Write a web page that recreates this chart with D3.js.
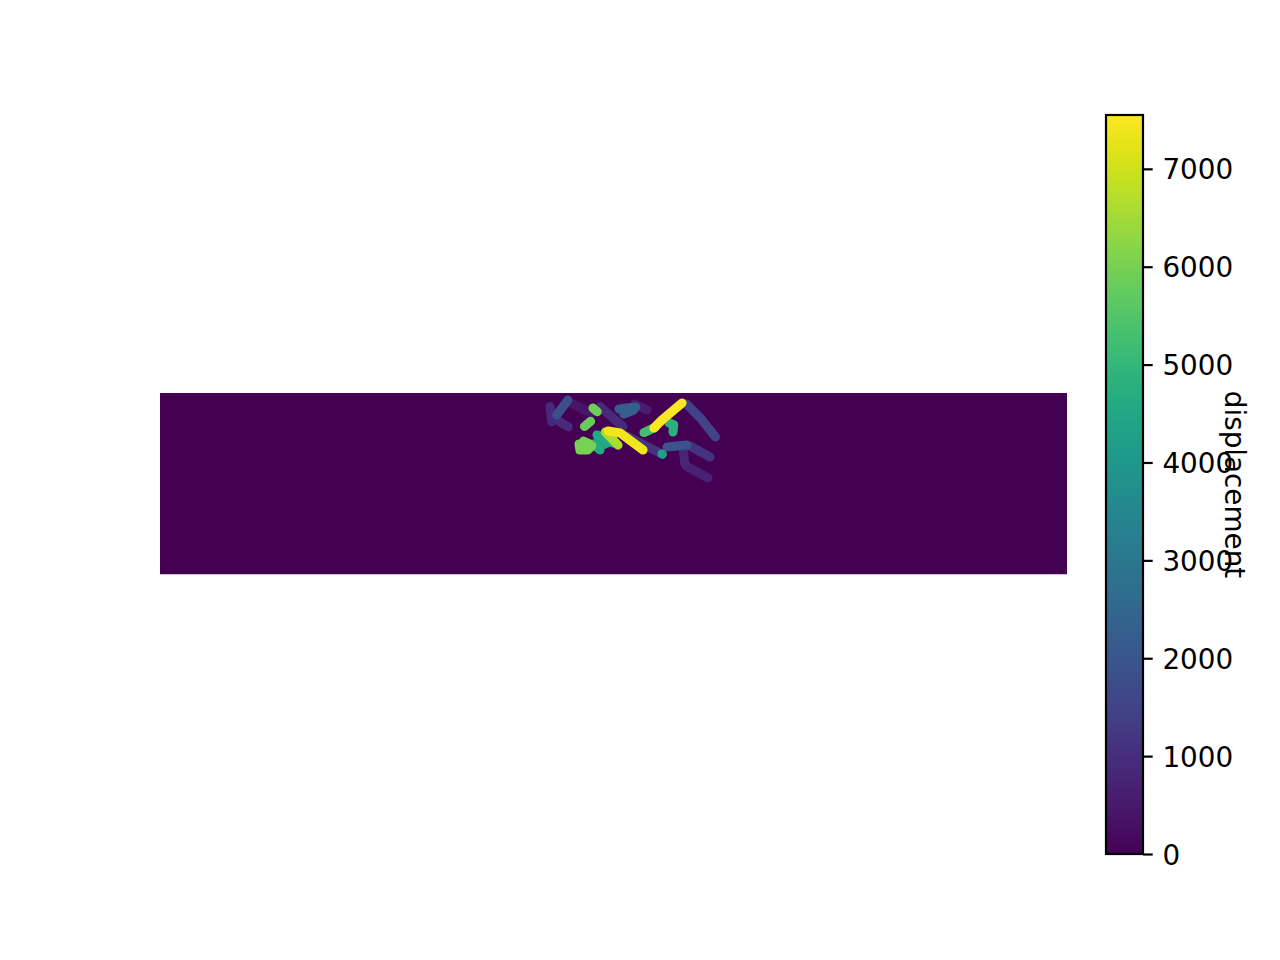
<!DOCTYPE html>
<html>
<head>
<meta charset="utf-8">
<script src="https://cdn.jsdelivr.net/npm/d3@7"></script>
<style>
  html, body { margin: 0; padding: 0; background: #ffffff; }
  svg { display: block; }
  text { font-family: "DejaVu Sans", sans-serif; }
</style>
</head>
<body>
<svg id="chart" width="1280" height="960"></svg>
<script>
// ---- data (grid units: x 0..500, y 0..100, y downward) ----
const gridWidth = 500;
const gridHeight = 100;
const displacementMax = 7550;

const faultTraces = [
  [[224.9, 3.9], [218.7, 12.1]],
  [[215.0, 7.5], [215.9, 15.8]],
  [[215.9, 13.2], [225.1, 18.7]],
  [[226.9, 5.7], [237.9, 11.2]],
  [[242.6, 7.5], [255.2, 18.6]],
  [[238.7, 8.3], [241.0, 10.3]],
  [[234.0, 18.4], [237.4, 15.6]],
  [[253.0, 8.8], [257.4, 8.3], [262.3, 7.7]],
  [[257.4, 8.3], [255.7, 11.6], [261.0, 9.5]],
  [[261.8, 6.1], [268.5, 9.4]],
  [[231.0, 28.1], [238.1, 29.0], [235.9, 31.4], [231.5, 31.4], [231.0, 28.1]],
  [[233.5, 26.5], [236.8, 28.0]],
  [[240.9, 23.1], [249.7, 27.5]],
  [[238.7, 28.1], [242.6, 31.4]],
  [[241.5, 24.5], [244.5, 28.5], [249.0, 26.5]],
  [[245.5, 21.5], [252.5, 28.7]],
  [[247.0, 20.9], [253.6, 22.0], [266.3, 31.4]],
  [[257.4, 23.7], [275.6, 33.1]],
  [[266.8, 21.8], [272.9, 19.0]],
  [[287.8, 5.5], [276.7, 14.9], [272.3, 19.3]],
  [[280.6, 16.5], [283.2, 17.5], [282.8, 21.5]],
  [[290.2, 6.1], [297.9, 13.8], [306.2, 24.2]],
  [[279.5, 29.8], [290.5, 28.7]],
  [[292.2, 29.2], [303.2, 35.3]],
  [[288.3, 30.3], [289.4, 39.1]],
  [[290.0, 40.2], [302.1, 46.8]],
  [[276.7, 33.6], [277.0, 33.8]]
];
const faultValues = [
  1800, 900, 900, 400, 900, 5900, 5800, 2200, 2200, 600,
  6000, 6000, 4600, 4600, 4500, 6600, 7400, 1100, 5300, 7500,
  4800, 1500, 1900, 1100, 800, 700, 4300
];
const faultWidth = 5; // grid units

const colorbarTicks = [0, 1000, 2000, 3000, 4000, 5000, 6000, 7000];
const colorbarLabel = "displacement";

// ---- layout ----
const svg = d3.select("#chart");
const plot = { left: 160, right: 1067, top: 393, bottom: 574.5 };
const cbar = { left: 1106, right: 1143, top: 115, bottom: 854 };

const x = d3.scaleLinear().domain([0, gridWidth]).range([plot.left, plot.right]);
const y = d3.scaleLinear().domain([0, gridHeight]).range([plot.top, plot.bottom]);
const color = d3.scaleSequential(d3.interpolateViridis).domain([0, displacementMax]);

svg.append("clipPath").attr("id", "plotclip")
  .append("rect")
  .attr("x", x(0)).attr("y", y(0))
  .attr("width", x(gridWidth) - x(0)).attr("height", y(gridHeight) - y(0));

const g = svg.append("g").attr("clip-path", "url(#plotclip)");
g.append("rect")
  .attr("x", x(0)).attr("y", y(0))
  .attr("width", x(gridWidth) - x(0)).attr("height", y(gridHeight) - y(0))
  .attr("fill", color(0));

const faults = faultTraces.map((pts, i) => ({ pts, v: faultValues[i] }))
  .sort((a, b) => a.v - b.v);
const line = d3.line().x(d => x(d[0])).y(d => y(d[1]));
g.selectAll("path.fault").data(faults).join("path")
  .attr("class", "fault")
  .attr("d", d => line(d.pts))
  .attr("fill", "none")
  .attr("stroke", d => color(d.v))
  .attr("stroke-width", x(faultWidth) - x(0))
  .attr("stroke-linecap", "round")
  .attr("stroke-linejoin", "round");

// ---- colorbar ----
const cy = d3.scaleLinear().domain([0, displacementMax]).range([cbar.bottom, cbar.top]);
const defs = svg.append("defs");
const grad = defs.append("linearGradient").attr("id", "cbgrad")
  .attr("x1", 0).attr("y1", 1).attr("x2", 0).attr("y2", 0);
d3.range(0, 1.0001, 0.02).forEach(t => {
  grad.append("stop").attr("offset", t).attr("stop-color", d3.interpolateViridis(t));
});
svg.append("rect")
  .attr("x", cbar.left).attr("y", cbar.top)
  .attr("width", cbar.right - cbar.left).attr("height", cbar.bottom - cbar.top)
  .attr("fill", "url(#cbgrad)")
  .attr("stroke", "#000").attr("stroke-width", 2.2);

const axis = d3.axisRight(cy).tickValues(colorbarTicks).tickSize(9.7).tickPadding(9.7)
  .tickFormat(d3.format("d"));
const ag = svg.append("g").attr("transform", `translate(${cbar.right},0)`).call(axis);
ag.select(".domain").remove();
ag.selectAll(".tick line").attr("stroke", "#000").attr("stroke-width", 2.2);
ag.selectAll(".tick text")
  .attr("fill", "#000")
  .attr("dy", "0.36em")
  .style("font-family", "'DejaVu Sans', sans-serif")
  .style("font-size", "27.8px");

svg.append("text")
  .attr("transform", `translate(1224.5, ${(cbar.top + cbar.bottom) / 2}) rotate(90)`)
  .attr("text-anchor", "middle")
  .style("font-size", "27.8px")
  .attr("fill", "#000")
  .text(colorbarLabel);
</script>
</body>
</html>
